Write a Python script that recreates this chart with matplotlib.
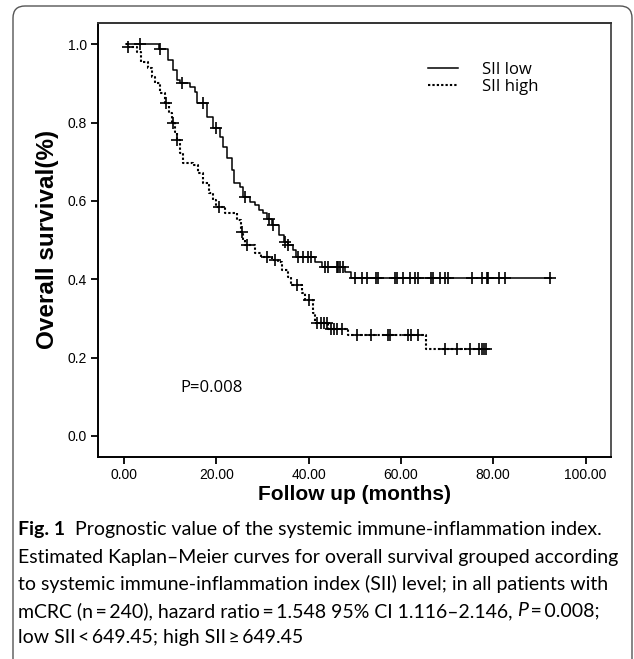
import numpy as np
import matplotlib
matplotlib.use("Agg")
from matplotlib import pyplot as plt
from matplotlib.patches import FancyBboxPatch
from matplotlib.transforms import IdentityTransform

# Kaplan-Meier steps: (time, survival after the step)
low_t = [0.4, 7.6, 9.5, 10.6, 11.4, 12.2, 14.3, 15.3, 15.8, 17.9, 19.2, 20.8, 21.5,
         22.3, 23.4, 23.9, 25.1, 25.7, 27.3, 28.4, 29.2, 30.2, 31.0, 32.0, 33.5,
         34.6, 35.5, 36.6, 37.2, 41.4, 43.0, 47.9, 49.3, 92.5]
low_s = [1.0, 0.987, 0.96, 0.934, 0.908, 0.90, 0.891, 0.879, 0.85, 0.815, 0.786, 0.764,
         0.738, 0.709, 0.679, 0.645, 0.636, 0.61, 0.598, 0.589, 0.577, 0.569, 0.553,
         0.538, 0.512, 0.495, 0.487, 0.474, 0.457, 0.444, 0.432, 0.419, 0.402, 0.402]
low_cens = [3.5, 7.8, 12.5, 17.1, 20.0, 26.2, 31.5, 32.3, 34.9, 35.6, 37.7, 38.8, 39.9,
            40.5, 43.5, 44.2, 46.1, 46.4, 46.8, 47.4, 50.1, 51.5, 52.6, 54.7, 55.1,
            58.7, 59.1, 60.5, 61.9, 63.0, 63.7, 66.6, 66.9, 68.4, 69.6, 70.3, 75.5,
            77.5, 78.6, 78.9, 81.3, 82.6, 92.2]

high_t = [0.4, 0.9, 2.8, 3.8, 5.2, 6.0, 6.7, 7.8, 8.9, 9.8, 10.5, 11.0, 11.4, 12.2, 12.9,
          15.0, 16.1, 17.2, 18.4, 19.3, 20.0, 22.0, 24.4, 25.3, 25.8, 26.3, 28.4, 29.7,
          32.0, 33.4, 34.2, 35.6, 36.1, 38.6, 39.2, 41.0, 41.5, 44.3, 48.5, 65.5, 78.5]
high_s = [1.0, 0.993, 0.981, 0.955, 0.94, 0.917, 0.90, 0.875, 0.85, 0.824, 0.798, 0.775,
          0.755, 0.722, 0.697, 0.691, 0.671, 0.645, 0.62, 0.602, 0.585, 0.568, 0.551,
          0.521, 0.50, 0.487, 0.466, 0.456, 0.449, 0.444, 0.423, 0.405, 0.385, 0.364,
          0.347, 0.313, 0.287, 0.274, 0.257, 0.221, 0.221]
high_cens = [0.9, 9.1, 10.7, 11.5, 20.6, 25.5, 26.6, 30.9, 32.7, 37.6, 40.2, 41.9, 42.6,
             43.4, 43.9, 44.9, 45.5, 46.2, 47.3, 50.4, 53.6, 57.2, 57.7, 61.6, 62.1,
             63.8, 69.6, 72.1, 75.0, 77.0, 77.5, 78.0, 78.4]

x_ticks = [0, 20, 40, 60, 80, 100]
y_ticks = [0.0, 0.2, 0.4, 0.6, 0.8, 1.0]


def surv_at(t, s, times):
    idx = np.searchsorted(t, times, side="right") - 1
    return np.array(s)[idx]


fig = plt.figure(figsize=(6.34, 6.59), dpi=100)
ax = fig.add_axes([0.1546, 0.3065, 0.8091, 0.659])

ax.step(low_t, low_s, where="post", color="black", lw=1.1, label="SII low")
ax.plot(low_cens, surv_at(low_t, low_s, low_cens), "+", color="black", ms=8, mew=1.2)
ax.step(high_t, high_s, where="post", color="black", lw=1.5,
        linestyle=(0, (1.1, 1.0)), label="SII high")
ax.plot(high_cens, surv_at(high_t, high_s, high_cens), "+", color="black", ms=8, mew=1.2)

ax.set_xlim(-5.6, 105.5)
ax.set_ylim(-0.054, 1.055)
ax.set_xticks(x_ticks)
ax.set_xticklabels(["%.2f" % v for v in x_ticks])
ax.set_yticks(y_ticks)
ax.set_yticklabels(["%.1f" % v for v in y_ticks])
ax.tick_params(direction="out", length=5, width=1.3, labelsize=10, pad=3)
for lab in ax.get_xticklabels() + ax.get_yticklabels():
    lab.set_family(["Liberation Sans", "DejaVu Sans"])
for sp in ax.spines.values():
    sp.set_linewidth(1.4)
ax.spines["top"].set_color("#333333")
ax.spines["right"].set_color("#555555")

ax.set_xlabel("Follow up (months)", fontsize=15, fontweight="bold",
              family=["Liberation Sans"], labelpad=2)
ax.set_ylabel("Overall survival(%)", fontsize=17.5, fontweight="bold",
              family=["Liberation Sans"], labelpad=6)

leg = ax.legend(loc="upper left", bbox_to_anchor=(0.615, 0.945), frameon=False,
                prop={"family": "Open Sans", "size": 12}, handlelength=1.75,
                handletextpad=1.45, labelspacing=0.1)

ax.text(12.3, 0.123, "P=0.008", fontsize=12, family="Open Sans", va="center")

# outer rounded frame
frame = FancyBboxPatch((13, -20), 619, 673, boxstyle="round,pad=0,rounding_size=12",
                       transform=IdentityTransform(), fill=False, ec="#555555", lw=1.0)
fig.patches.append(frame)

# caption
cap_font = "Lato"
renderer = fig.canvas.get_renderer()
probe = fig.text(0, 0, "Estimated Kaplan\u2013Meier curves for overall survival grouped according",
                 fontsize=10, family=cap_font)
cap_size = 10 * 599 / probe.get_window_extent(renderer).width
probe.remove()


def draw_line(segments, y_px, x_px=18):
    x = x_px
    for txt, style in segments:
        kw = dict(fontsize=cap_size, family=cap_font, va="center", ha="left",
                  transform=IdentityTransform())
        if style == "b":
            kw["fontweight"] = "bold"
        if style == "i":
            kw["style"] = "italic"
        t = fig.text(x, 659 - y_px, txt, **kw)
        x += t.get_window_extent(renderer).width


caption = [
    [("Fig. 1", "b"), ("  Prognostic value of the systemic immune-inflammation index.", "")],
    [("Estimated Kaplan\u2013Meier curves for overall survival grouped according", "")],
    [("to systemic immune-inflammation index (SII) level; in all patients with", "")],
    [("mCRC (n\u2009=\u2009240), hazard ratio\u2009=\u20091.548 95% CI 1.116\u20132.146, ", ""),
     ("P", "i"), ("\u2009=\u20090.008;", "")],
    [("low SII\u2009<\u2009649.45; high SII\u2009\u2265\u2009649.45", "")],
]
cap_y = [530, 557, 584, 611, 638]
for segs, yy in zip(caption, cap_y):
    draw_line(segs, yy)

fig.savefig("out.png", dpi=100)
